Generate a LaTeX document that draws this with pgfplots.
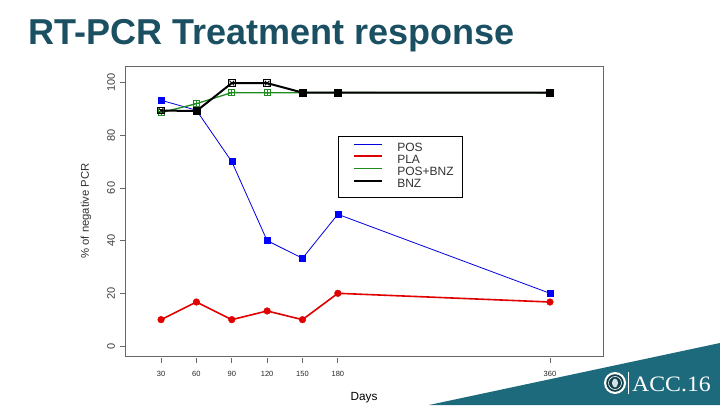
\documentclass[border=0pt]{standalone}
\usepackage{fontspec}
\setmainfont{Liberation Sans}
\newfontfamily\seriffont{Liberation Serif}
\usepackage{pgfplots}
\pgfplotsset{compat=1.18}
\definecolor{titlecol}{HTML}{1B4F62}
\definecolor{tealbg}{HTML}{1C6A7C}
\definecolor{posblue}{HTML}{0000E0}
\definecolor{plared}{HTML}{E00000}
\definecolor{bnzgreen}{HTML}{1E8C1E}
\definecolor{framegray}{HTML}{666666}
\begin{document}
\begin{tikzpicture}[x=1pt,y=1pt]
\path[fill=white] (0,0) rectangle (720,405);
\fill[tealbg] (429,0) -- (720,62) -- (720,0) -- cycle;
\node[anchor=base west, text=titlecol, font=\fontsize{36}{40}\selectfont\bfseries, inner sep=0pt] at (28,360) {RT-PCR Treatment response};
% emblem
\fill[white] (615,22) circle (11);
\fill[tealbg!60!black] (615,22) circle (8.8);
\draw[white, line width=0.6pt] (615,22) circle (6.5);
\fill[white!80!tealbg] (615,22) ellipse (3 and 4.5);
\draw[white, line width=0.8pt] (628,11) -- (628,33);
\node[anchor=base west, text=white, font=\seriffont\fontsize{22}{24}\selectfont, inner sep=0pt, xscale=1.08] at (632,14) {ACC.16};

\begin{axis}[at={(125pt,49pt)}, anchor=south west, scale only axis,
  width=478pt, height=290pt,
  xmin=-0.6, xmax=405, ymin=-3.8, ymax=106.3,
  xtick={30,60,90,120,150,180,360}, ytick={0,20,40,60,80,100},
  axis line style={framegray, line width=0.8pt},
  tick style={framegray, line width=0.8pt},
  xtick style={yshift=-2pt},
  tick align=outside, major tick length=5pt,
  xtick pos=bottom, ytick pos=left,
  /pgf/number format/assume math mode=true,
  xticklabel style={font=\fontsize{7.5}{9}\selectfont, text=black!85},
  yticklabel style={font=\fontsize{11}{12}\selectfont, text=black!75, rotate=90, anchor=south},
  xticklabel shift=6.5pt, yticklabel shift=1.5pt,
  xlabel={Days}, ylabel={\% of negative PCR},
  every axis x label/.style={at={([yshift=-42pt]rel axis cs:0.5,0)}, anchor=center, font=\fontsize{11.8}{13}\selectfont},
  every axis y label/.style={at={([xshift=-39pt]rel axis cs:0,0.5)}, rotate=90, anchor=center, font=\fontsize{11.3}{13}\selectfont, text=black!80},
  legend style={at={(0.4456,0.7586)}, anchor=north west, draw=black, line width=0.6pt,
    font=\fontsize{12}{12}\selectfont, text=black!80, inner xsep=9pt, inner ysep=6.4pt,
    nodes={inner sep=0pt, text height=8.6pt, text depth=2.6pt},
    row sep=1pt, column sep=14pt},
  legend cell align=left,
  legend image code/.code={\path (0pt,0pt); \draw[#1] (6pt,4.3pt) -- (34pt,4.3pt);},
]
\addplot[posblue, line width=0.8pt, mark=square*, mark size=3pt, mark options={fill=blue, draw=blue, line width=0.5pt}]
  coordinates {(30,93.3)(60,89.5)(90,70)(120,40)(150,33.3)(180,50)(360,20)};
\addlegendentry{POS}
\addplot[plared, line width=1.6pt, mark=*, mark size=3.3pt, mark options={fill=plared, draw=plared, line width=0.5pt}]
  coordinates {(30,10)(60,16.7)(90,10)(120,13.3)(150,10)(180,20)(360,16.7)};
\addlegendentry{PLA}
\addplot[bnzgreen, line width=1.3pt, mark=square, mark size=3pt, mark options={line width=0.8pt}]
  coordinates {(30,88.6)(60,92)(90,96.2)(120,96.1)(150,96.2)(180,96.2)(360,96.1)};
\addlegendentry{POS+BNZ}
\addplot[bnzgreen, only marks, mark=+, mark size=3pt, mark options={line width=0.8pt}, forget plot]
  coordinates {(30,88.6)(60,92)(90,96.2)(120,96.1)(150,96.2)(180,96.2)(360,96.1)};
\addplot[black, line width=2pt, mark=square, mark size=3.3pt, mark options={line width=0.9pt}]
  coordinates {(30,89.4)(60,89.2)(90,99.8)(120,99.8)(150,96.2)(180,96.2)(360,96.2)};
\addlegendentry{BNZ}
\addplot[black, only marks, mark=x, mark size=3.3pt, mark options={line width=0.9pt}, forget plot]
  coordinates {(30,89.4)(60,89.2)(90,99.8)(120,99.8)};
\addplot[black, only marks, mark=square*, mark size=3.5pt, forget plot]
  coordinates {(60,89.2)(150,96.2)(180,96.2)(360,96.2)};
\end{axis}
\end{tikzpicture}
\end{document}
